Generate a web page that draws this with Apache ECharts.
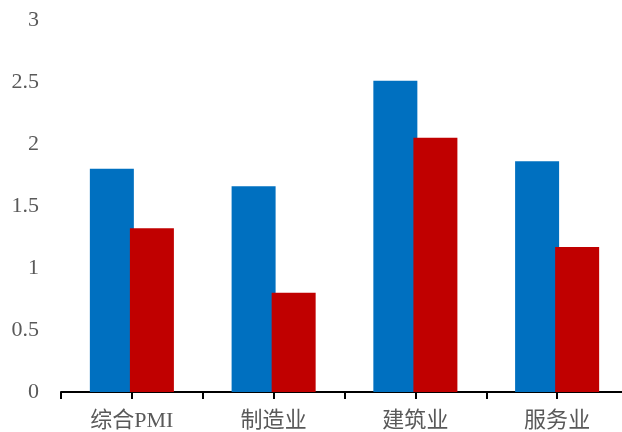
<!DOCTYPE html>
<html>
<head>
<meta charset="utf-8">
<script src="https://cdn.jsdelivr.net/npm/echarts@6/dist/echarts.min.js"></script>
<style>
  html, body { margin: 0; padding: 0; background: #fff; overflow: hidden; }
  /* 图表比窗口略宽，让横轴一直延伸到右边缘 */
  #chart { width: 628px; height: 432px; }
</style>
</head>
<body>
<div id="chart"></div>
<script>
// 数据
const categories = ['综合PMI', '制造业', '建筑业', '服务业']
const blueValues = [1.8, 1.66, 2.51, 1.86]
const redValues = [1.32, 0.8, 2.05, 1.17]

const chart = echarts.init(document.getElementById('chart'))
const labelFont = '"Liberation Serif", "Noto Sans CJK SC", serif'

const option = {
  animation: false,
  grid: { left: 61, right: 0, top: 20, bottom: 40 },
  xAxis: [
    {
      type: 'category',
      data: categories,
      axisLine: { lineStyle: { color: '#000', width: 2 } },
      axisTick: { show: false },
      axisLabel: {
        margin: 18,
        fontSize: 22,
        color: '#595959',
        fontFamily: labelFont
      }
    },
    {
      // 只用来画刻度线（类别边界和中点）
      type: 'value',
      position: 'bottom',
      min: 0,
      max: 8,
      interval: 1,
      axisLine: { show: false },
      axisTick: { show: true, length: 7, lineStyle: { color: '#000', width: 2 } },
      axisLabel: { show: false },
      splitLine: { show: false }
    }
  ],
  yAxis: {
    type: 'value',
    min: 0,
    max: 3,
    interval: 0.5,
    axisLine: { show: false },
    axisTick: { show: false },
    splitLine: { show: false },
    axisLabel: {
      margin: 22,
      fontSize: 22,
      color: '#595959',
      fontFamily: labelFont
    }
  },
  series: [
    {
      type: 'bar',
      xAxisIndex: 0,
      barWidth: 44,
      barGap: '-9%',
      itemStyle: { color: '#0070C0' },
      data: blueValues
    },
    {
      type: 'bar',
      xAxisIndex: 0,
      barWidth: 44,
      barGap: '-9%',
      itemStyle: { color: '#C00000' },
      data: redValues
    }
  ]
}
chart.setOption(option)
</script>
</body>
</html>
